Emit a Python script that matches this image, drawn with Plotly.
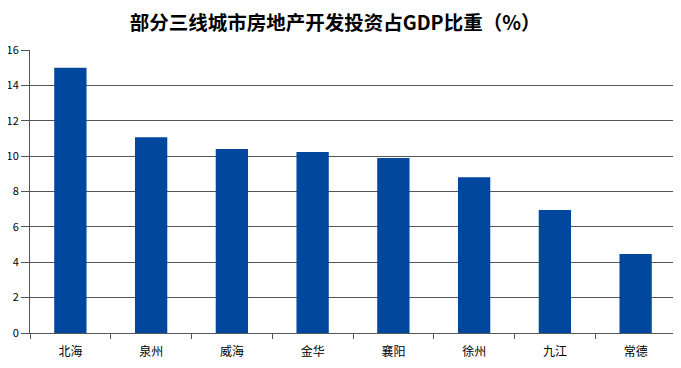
import plotly.graph_objects as go

cities = ["北海", "泉州", "威海", "金华", "襄阳", "徐州", "九江", "常德"]
ratios = [15.0, 11.07, 10.4, 10.23, 9.89, 8.81, 6.95, 4.46]
y_ticks = [0, 2, 4, 6, 8, 10, 12, 14, 16]

font_family = "Noto Sans CJK SC, Microsoft YaHei, sans-serif"

fig = go.Figure(go.Bar(
    x=cities, y=ratios,
    marker=dict(color="#00479D", line=dict(width=0)),
    width=0.4,
))

fig.update_layout(
    width=673, height=360,
    margin=dict(l=22, r=5, t=42, b=35),
    paper_bgcolor="white", plot_bgcolor="white",
    showlegend=False,
    title=dict(
        text="<b>部分三线城市房地产开发投资占GDP比重（%）</b>",
        x=0.486, xanchor="center", y=0.958, yanchor="middle",
        font=dict(family=font_family, size=19.5, color="#000000"),
    ),
    font=dict(family=font_family, size=11, color="#000000"),
)

fig.update_xaxes(
    showline=True, linecolor="#555555", linewidth=1,
    ticks="outside", tickson="boundaries", ticklen=5, tickcolor="#555555",
    showgrid=False, tickfont=dict(size=12), automargin=False,
    ticklabelstandoff=8,
)
fig.update_yaxes(
    range=[0, 16], tickvals=y_ticks,
    showline=True, linecolor="#555555", linewidth=1,
    ticks="outside", ticklen=8, tickcolor="#555555",
    showgrid=True, gridcolor="#555555", gridwidth=1,
    zeroline=False, tickfont=dict(size=11), automargin=False,
)

fig.write_html("out.html")
